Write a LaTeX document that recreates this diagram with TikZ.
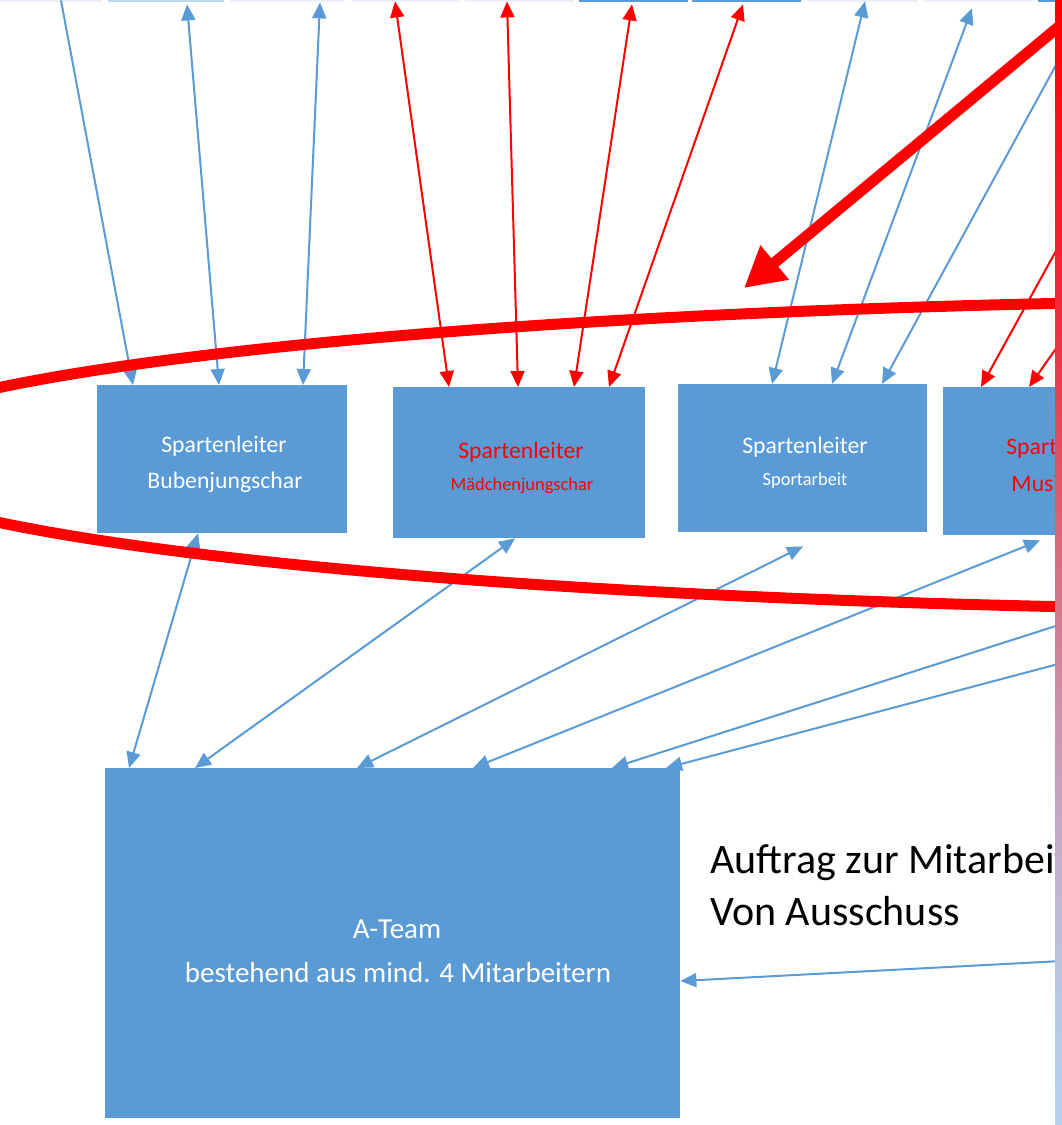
\documentclass[tikz,border=0pt]{standalone}
\usepackage{fontspec}
\setmainfont{Carlito}
\usetikzlibrary{arrows.meta,calc}
\definecolor{ofblue}{HTML}{5B9BD5}
\definecolor{strlight}{HTML}{BDD7EE}
\definecolor{strfaint}{HTML}{EAF1F9}
\definecolor{barbot}{HTML}{B5D2EF}
\definecolor{barc}{HTML}{B8C9E6}
\definecolor{bard}{HTML}{C2AECB}
\definecolor{bare}{HTML}{CC8FA8}
\definecolor{barf}{HTML}{E0505F}
\definecolor{barg}{HTML}{F0283A}
\definecolor{bartop}{HTML}{FF0000}
\pgfdeclareverticalshading{barshade}{100bp}{color(0bp)=(barbot); color(25bp)=(barbot); color(30.6bp)=(barc); color(37.2bp)=(bard); color(43.9bp)=(bare); color(55bp)=(barf); color(61.7bp)=(barg); color(75bp)=(bartop); color(100bp)=(bartop)}
\tikzset{
  ofhead/.tip={Triangle[length=16pt,width=14pt]},
  bighead/.tip={Triangle[length=40pt,width=42pt]},
  box/.style={rectangle, fill=ofblue, draw=none, inner sep=0pt, anchor=north west},
  strip/.style={rectangle, draw=none, inner sep=0pt, anchor=north west, minimum height=2pt},
  blink/.style={draw=ofblue, line width=2pt},
  rlink/.style={draw=red, line width=2pt},
  wtxt/.style={text=white, inner sep=0pt, anchor=base},
  rtxt/.style={text=red, inner sep=0pt, anchor=base},
  bigfont/.style={font=\fontsize{23.7}{28}\selectfont},
  smallfont/.style={font=\fontsize{18.4}{22}\selectfont},
  atfont/.style={font=\fontsize{29}{34}\selectfont},
  notefont/.style={font=\fontsize{42}{50}\selectfont},
}
\begin{document}
\begin{tikzpicture}[x=1pt,y=-1pt]
\useasboundingbox (0,0) rectangle (1062,1125);
\fill[white] (0,0) rectangle (1062,1125);
\clip (0,0) rectangle (1062,1125);

% top strips (bottom edges of boxes above)
\node[strip, fill=strfaint, minimum width=102pt] (t1) at (0,0) {};
\node[strip, fill=strlight, minimum width=116pt] (t2) at (108,0) {};
\node[strip, fill=strfaint, minimum width=114pt] (t3) at (230,0) {};
\node[strip, fill=strfaint, minimum width=108pt] (t4) at (351,0) {};
\node[strip, fill=strfaint, minimum width=109pt] (t5) at (465,0) {};
\node[strip, fill=ofblue, minimum width=109pt] (t6) at (579,0) {};
\node[strip, fill=ofblue, minimum width=109pt] (t7) at (692,0) {};
\node[strip, fill=strfaint, minimum width=110pt] (t8) at (808,0) {};
\node[strip, fill=strfaint, minimum width=110pt] (t9) at (923,0) {};
\node[strip, fill=ofblue, minimum width=60pt] (t10) at (1038,0) {};

% boxes
\node[box, minimum width=250pt, minimum height=148pt] (b1) at (97,385) {};
\node[box, minimum width=252pt, minimum height=151pt] (b2) at (393,387) {};
\node[box, minimum width=249pt, minimum height=148pt] (b3) at (678,384) {};
\node[box, minimum width=252pt, minimum height=148pt] (b4) at (943,387) {};
\node[box, minimum width=575pt, minimum height=350pt] (at) at (105,768) {};

% free ends at the right edge
\coordinate (e10) at (1062,54);
\coordinate (e11) at (1062,240);
\coordinate (e12) at (1062,340);
\coordinate (e13) at (1062,624);
\coordinate (e14) at (1062,663);
\coordinate (e15) at (1062,961);
\coordinate (bigstart) at (1062,24);
\coordinate (bigtip) at (744,288);

% top connectors
\draw[blink, -ofhead] ($(t1.south west)+(61,-2)$) -- ($(b1.north west)+(36,0)$);
\draw[blink, ofhead-ofhead] ($(t2.south west)+(79,2)$) -- ($(b1.north west)+(122,0)$);
\draw[blink, ofhead-ofhead] ($(t3.south west)+(90,0)$) -- ($(b1.north west)+(206,0)$);
\draw[rlink, ofhead-ofhead] ($(t4.south west)+(44,-1)$) -- ($(b2.north west)+(56,0)$);
\draw[rlink, ofhead-ofhead] ($(t5.south west)+(42,-1)$) -- ($(b2.north west)+(125,0)$);
\draw[rlink, ofhead-ofhead] ($(t6.south west)+(53,2)$) -- ($(b2.north west)+(181,0)$);
\draw[rlink, ofhead-ofhead] ($(t7.south west)+(51,2)$) -- ($(b2.north west)+(216,0)$);
\draw[blink, ofhead-ofhead] ($(t8.south west)+(57,-1)$) -- ($(b3.north west)+(94,0)$);
\draw[blink, ofhead-ofhead] ($(t9.south west)+(49,6)$) -- ($(b3.north west)+(154,0)$);
\draw[blink, -ofhead] (e10) -- ($(b3.north west)+(204,0)$);
\draw[rlink, -ofhead] (e11) -- ($(b4.north west)+(38,0)$);
\draw[rlink, -ofhead] (e12) -- ($(b4.north west)+(86,0)$);

% bottom connectors
\draw[blink, ofhead-ofhead] ($(b1.south west)+(101,0)$) -- ($(at.north west)+(24,0)$);
\draw[blink, ofhead-ofhead] ($(b2.south west)+(122,0)$) -- ($(at.north west)+(90,0)$);
\draw[blink, ofhead-ofhead] ($(b3.south west)+(125,14)$) -- ($(at.north west)+(252,0)$);
\draw[blink, ofhead-ofhead] ($(b4.south west)+(97,5)$) -- ($(at.north west)+(368,0)$);
\draw[blink, -ofhead] (e13) -- ($(at.north west)+(507,0)$);
\draw[blink, -ofhead] (e14) -- ($(at.north west)+(561,0)$);
\draw[blink, -ofhead] (e15) -- ($(at.north east)+(0,213)$);

% red ellipse and big arrow
\draw[red, line width=11pt] (1377,455) ellipse [x radius=1530, y radius=155];
\draw[red, line width=11pt, -bighead] (bigstart) -- (bigtip);

% texts
\node[wtxt, bigfont] (b1a) at (224,452) {Spartenleiter};
\node[wtxt, bigfont] (b1b) at (225,488) {Bubenjungschar};
\node[rtxt, bigfont] (b2a) at (521,458) {Spartenleiter};
\node[rtxt, smallfont] (b2b) at (522,490) {Mädchenjungschar};
\node[wtxt, bigfont] (b3a) at (805,453) {Spartenleiter};
\node[wtxt, smallfont] (b3b) at (805,485) {Sportarbeit};
\node[rtxt, bigfont] (b4a) at (1069,454) {Spartenleiter};
\node[rtxt, bigfont] (b4b) at (1069,491) {Musikarbeit};
\node[wtxt, atfont] (ata) at (397,938) {A-Team};
\node[wtxt, atfont] (atb) at (398,982) {bestehend aus mind. 4 Mitarbeitern};
\node[inner sep=0pt, anchor=base west, notefont] (n1) at (710,873) {Auftrag zur Mitarbeit};
\node[inner sep=0pt, anchor=base west, notefont] (n2) at (710,925) {Von Ausschuss};

% gradient bar at the right edge
\node[rectangle, inner sep=0pt, anchor=north west, minimum width=7pt, minimum height=1125pt, draw=none, shading=barshade] (bar) at (1055,0) {};
\end{tikzpicture}
\end{document}
